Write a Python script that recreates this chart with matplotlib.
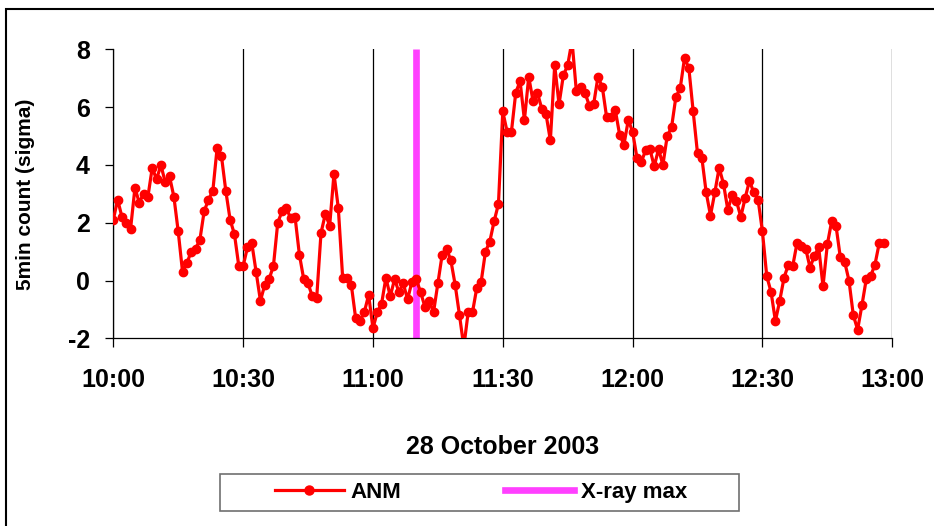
import numpy as np
import pandas as pd
import matplotlib
matplotlib.use("Agg")
import matplotlib.pyplot as plt
import matplotlib.dates as mdates
from matplotlib.lines import Line2D
from matplotlib.patches import Rectangle

plt.rcParams['font.family'] = ['Liberation Sans', 'DejaVu Sans']
plt.rcParams['font.weight'] = 'bold'
plt.rcParams['axes.unicode_minus'] = False

# ANM 5-minute count, in sigma, one value per minute from 10:00
anm = [
    2.1, 2.8, 2.2, 2.0, 1.8, 3.2, 2.7, 3.0, 2.9, 3.9,
    3.5, 4.0, 3.4, 3.6, 2.9, 1.7, 0.3, 0.6, 1.0, 1.1,
    1.4, 2.4, 2.8, 3.1, 4.6, 4.3, 3.1, 2.1, 1.6, 0.5,
    0.5, 1.15, 1.3, 0.3, -0.7, -0.15, 0.05, 0.5, 2.0, 2.4,
    2.5, 2.15, 2.2, 0.9, 0.05, -0.1, -0.55, -0.6, 1.65, 2.3,
    1.9, 3.7, 2.5, 0.1, 0.1, -0.15, -1.3, -1.4, -1.1, -0.5,
    -1.65, -1.1, -0.8, 0.1, -0.55, 0.05, -0.4, -0.1, -0.65, -0.05,
    0.05, -0.4, -0.9, -0.7, -1.1, -0.1, 0.9, 1.1, 0.7, -0.15,
    -1.2, -2.3, -1.1, -1.1, -0.25, -0.05, 1.0, 1.35, 2.05, 2.65,
    5.85, 5.15, 5.15, 6.5, 6.9, 5.55, 7.05, 6.2, 6.5, 5.95,
    5.75, 4.85, 7.45, 6.1, 7.1, 7.45, 8.3, 6.55, 6.7, 6.5,
    6.05, 6.1, 7.05, 6.7, 5.65, 5.65, 5.9, 5.05, 4.7, 5.55,
    5.15, 4.25, 4.1, 4.5, 4.55, 3.95, 4.55, 4.0, 5.0, 5.3,
    6.35, 6.65, 7.7, 7.35, 5.85, 4.4, 4.25, 3.05, 2.25, 3.05,
    3.9, 3.35, 2.45, 2.95, 2.75, 2.2, 2.85, 3.45, 3.05, 2.8,
    1.7, 0.15, -0.4, -1.4, -0.7, 0.1, 0.55, 0.5, 1.3, 1.2,
    1.1, 0.45, 0.85, 1.15, -0.2, 1.25, 2.05, 1.9, 0.8, 0.65,
    0.0, -1.2, -1.7, -0.85, 0.05, 0.15, 0.55, 1.3, 1.3,
]
start_time = '2003-10-28 10:00'
end_time = '2003-10-28 13:00'
xray_max_time = '2003-10-28 11:10'
y_ticks = [-2, 0, 2, 4, 6, 8]

times = pd.date_range(start_time, periods=len(anm), freq='min')
t_start = pd.Timestamp(start_time)
t_end = pd.Timestamp(end_time)
t_xray = pd.Timestamp(xray_max_time)

fig = plt.figure(figsize=(9.34, 5.26), dpi=100)
ax = fig.add_axes([0.1213, 0.3568, 0.8340, 0.5494])

ax.plot([t_xray, t_xray], [-2, 8], color='#FF40FF', lw=4.8,
        solid_capstyle='butt', zorder=2)
ax.plot(times, anm, color='#FF0000', lw=2.3, marker='o', ms=6,
        zorder=3)

ax.set_xlim(t_start, t_end)
ax.set_ylim(-2, 8)
ax.set_yticks(y_ticks)
ax.xaxis.set_major_locator(mdates.MinuteLocator(byminute=[0, 30]))
ax.xaxis.set_major_formatter(mdates.DateFormatter('%H:%M'))

ax.grid(axis='x', color='black', lw=0.9)
ax.grid(axis='y', visible=False)
for side in ('top', 'right'):
    ax.spines[side].set_visible(False)
for side in ('left', 'bottom'):
    ax.spines[side].set_linewidth(0.9)

ax.tick_params(axis='x', direction='out', length=6.3, width=0.9,
               pad=15, labelsize=18)
ax.tick_params(axis='y', direction='out', length=5.8, width=0.9,
               pad=11, labelsize=18)

ax.set_ylabel('5min count (sigma)', fontsize=15, fontweight='bold')
ax.yaxis.set_label_coords(-0.1005, 0.5)
ax.set_xlabel('28 October 2003', fontsize=18, fontweight='bold',
              va='center')
ax.xaxis.set_label_coords(0.5, -0.376)

handles = [
    Line2D([], [], color='#FF0000', lw=2.3, marker='o', ms=6.5),
    Line2D([], [], color='#FF40FF', lw=4.8),
]
fig.legend(handles, ['ANM', 'X-ray max'], loc='center',
           bbox_to_anchor=(481 / 934, 1 - 492.5 / 526),
           bbox_transform=fig.transFigure, ncol=2, frameon=False,
           fontsize=16, handlelength=3.1, handletextpad=0.3,
           columnspacing=4.7)
fig.patches.append(Rectangle((220 / 934, 15 / 526), 519 / 934, 37 / 526,
                             transform=fig.transFigure, fill=False,
                             edgecolor='#707070', lw=1.2))

# chart-area border
fig.patches.append(Rectangle((6 / 934, -0.1), 1.2, 1.1 - 9 / 526,
                             transform=fig.transFigure, fill=False,
                             edgecolor='black', lw=1.5))

fig.savefig('out.png', dpi=100)
